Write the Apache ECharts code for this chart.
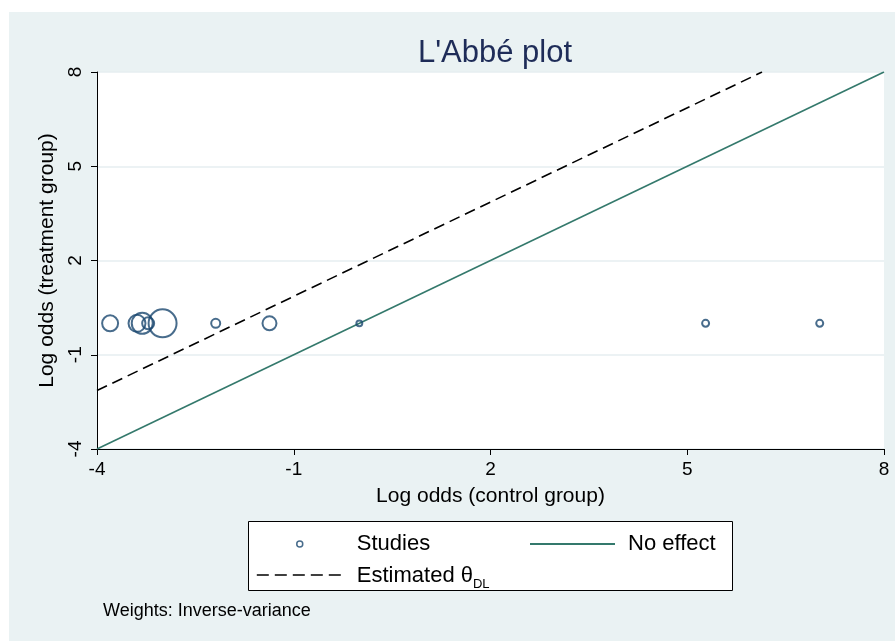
<!DOCTYPE html>
<html>
<head>
<meta charset="utf-8">
<script src="https://cdn.jsdelivr.net/npm/echarts@6/dist/echarts.min.js"></script>
<style>
  html, body { margin: 0; padding: 0; background: #ffffff; }
  #chart { width: 895px; height: 641px; }
</style>
</head>
<body>
<div id="chart"></div>
<script>
// Study-level log odds (control vs treatment) and inverse-variance weights (%)
const controlLogOdds = [-3.80, -3.39, -3.31, -3.22, -3.00, -2.19, -1.37, 0.00, 5.28, 7.02];
const treatmentLogOdds = [0, 0, 0, 0, 0, 0, 0, 0, 0, 0];
const weights = [11.0, 12.4, 19.0, 6.2, 33.7, 3.5, 8.4, 1.5, 2.1, 2.1];

// Reference line of no effect (treatment = control)
const noEffectX = [-4, 8];
const noEffectY = [-4, 8];

// Line implied by the DerSimonian-Laird pooled log odds ratio
const estimateX = [-4, 6.14];
const estimateY = [-2.14, 8];

// Axis ticks
const axisTicks = [-4, -1, 2, 5, 8];

const NAVY = '#1a476f';
const TITLE = '#1e2c58';
const TEAL = '#34796c';
const BG = '#eaf2f3';
const FONT = '"Liberation Sans", Arial, Helvetica, sans-serif';

const studies = controlLogOdds.map((x, i) => [x, treatmentLogOdds[i], weights[i]]);
const pairs = (xs, ys) => xs.map((x, i) => [x, ys[i]]);

const chart = echarts.init(document.getElementById('chart'));

const legendText = { fontFamily: FONT, fontSize: 22, color: '#000' };

chart.setOption({
  backgroundColor: '#ffffff',
  animation: false,
  textStyle: { fontFamily: FONT },
  title: {
    text: "L'Abbé plot",
    left: 490,
    textAlign: 'center',
    top: 33,
    textStyle: { fontFamily: FONT, fontSize: 31, fontWeight: 'normal', color: TITLE }
  },
  graphic: [
    { type: 'rect', z: -10, silent: true,
      shape: { x: 9, y: 12, width: 886, height: 629 },
      style: { fill: BG } },
    { type: 'rect', z: 5, silent: true,
      shape: { x: 248.5, y: 521.5, width: 484, height: 69 },
      style: { fill: '#ffffff', stroke: '#000000', lineWidth: 1 } },
    { type: 'text', z: 6, left: 103, top: 602,
      style: { text: 'Weights: Inverse-variance', fontFamily: FONT, fontSize: 18, fill: '#000000' } }
  ],
  grid: {
    left: 97, right: 11, top: 72, bottom: 192,
    show: true, backgroundColor: '#ffffff', borderWidth: 0
  },
  xAxis: {
    type: 'value',
    min: axisTicks[0], max: axisTicks[axisTicks.length - 1], interval: 3,
    name: 'Log odds (control group)',
    nameLocation: 'middle', nameGap: 37,
    nameTextStyle: { fontFamily: FONT, fontSize: 21, color: '#000' },
    axisLine: { show: true, onZero: false, lineStyle: { color: '#000', width: 1 } },
    axisTick: { show: true, length: 6, lineStyle: { color: '#000' } },
    axisLabel: { fontFamily: FONT, fontSize: 19, color: '#000', margin: 11 },
    splitLine: { show: false }
  },
  yAxis: {
    type: 'value',
    min: axisTicks[0], max: axisTicks[axisTicks.length - 1], interval: 3,
    name: 'Log odds (treatment group)',
    nameLocation: 'middle', nameGap: 39, nameRotate: 90,
    nameTextStyle: { fontFamily: FONT, fontSize: 21, color: '#000' },
    axisLine: { show: true, onZero: false, lineStyle: { color: '#000', width: 1 } },
    axisTick: { show: true, length: 6, lineStyle: { color: '#000' } },
    axisLabel: { fontFamily: FONT, fontSize: 19, color: '#000', rotate: 90, margin: 12 },
    splitLine: { show: true, lineStyle: { color: '#e6eef0', width: 1.5 } }
  },
  legend: [
    {
      data: ['Studies'], left: 291, top: 528, z: 10,
      itemWidth: 84, itemHeight: 6, icon: 'circle',
      itemStyle: { color: '#ffffff', borderColor: NAVY, borderWidth: 1.5 },
      textStyle: Object.assign({ padding: [0, 0, 0, 10] }, legendText)
    },
    {
      data: ['No effect'], left: 524, top: 528, z: 10,
      itemWidth: 85, itemHeight: 14,
      itemStyle: { opacity: 0 },
      textStyle: Object.assign({ padding: [0, 0, 0, 8] }, legendText)
    },
    {
      data: ['Estimated θDL'], left: 251, top: 560, z: 10,
      itemWidth: 85, itemHeight: 14,
      itemStyle: { opacity: 0 },
      lineStyle: { type: [12, 6], width: 1.6 },
      formatter: () => '{a|Estimated θ}{s|DL}',
      textStyle: Object.assign({
        padding: [0, 0, 0, 10],
        rich: {
          a: { fontFamily: FONT, fontSize: 22, color: '#000', lineHeight: 24, verticalAlign: 'bottom' },
          s: { fontFamily: FONT, fontSize: 13, color: '#000', lineHeight: 24, verticalAlign: 'bottom', padding: [0, 0, -4, 0] }
        }
      }, legendText)
    }
  ],
  series: [
    {
      name: 'No effect',
      type: 'line',
      data: pairs(noEffectX, noEffectY),
      symbol: 'none',
      lineStyle: { color: TEAL, width: 1.6 },
      itemStyle: { color: TEAL },
      z: 2
    },
    {
      name: 'Estimated θDL',
      type: 'line',
      data: pairs(estimateX, estimateY),
      symbol: 'none',
      lineStyle: { color: '#000', width: 1.6, type: [11, 6] },
      itemStyle: { color: '#000' },
      z: 2
    },
    {
      name: 'Studies',
      type: 'scatter',
      data: studies,
      symbol: 'circle',
      symbolSize: d => 4.82 * Math.sqrt(d[2]),
      itemStyle: { color: 'rgba(255,255,255,0)', borderColor: NAVY, borderWidth: 2 },
      z: 3
    }
  ]
});
</script>
</body>
</html>
